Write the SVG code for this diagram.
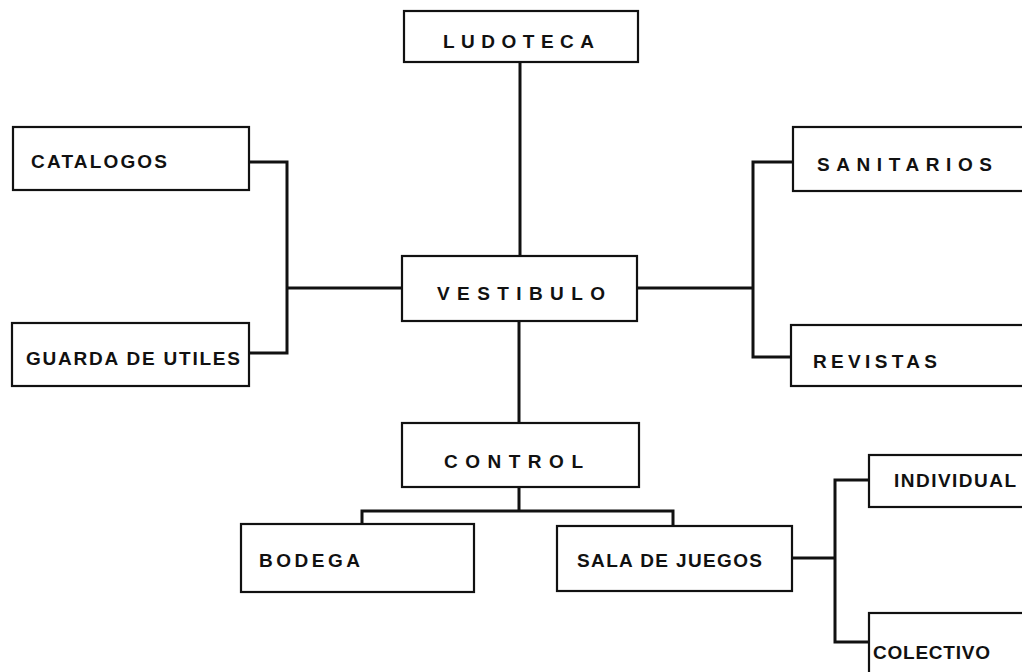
<svg xmlns="http://www.w3.org/2000/svg" width="1022" height="672" viewBox="0 0 1022 672">
<style>
.box{fill:#fff;stroke:#111;stroke-width:2.2}
.lbl{font-family:"Liberation Sans",Arial,sans-serif;font-weight:bold;font-size:19px;fill:#111}
.con{fill:none;stroke:#111;stroke-width:3;stroke-linejoin:miter}
</style>
<rect width="1022" height="672" fill="#fff"/>
<g id="connectors">
<path class="con" d="M520 62 V256"/>
<path class="con" d="M249 162 H287 V353 H249 M287 288 H402"/>
<path class="con" d="M637 288 H753 M793 162 H753 V357 H791"/>
<path class="con" d="M519 321 V423"/>
<path class="con" d="M519 487 V511 M362 524 V511 H673 V526"/>
<path class="con" d="M792 558 H835 M869 480 H835 V642 H869"/>
</g>
<g id="ludoteca"><rect class="box" x="404" y="11" width="234" height="51"/><text class="lbl" x="443" y="48" textLength="151" lengthAdjust="spacing">LUDOTECA</text></g>
<g id="catalogos"><rect class="box" x="13" y="127" width="236" height="63"/><text class="lbl" x="31" y="168" textLength="136" lengthAdjust="spacing">CATALOGOS</text></g>
<g id="guarda"><rect class="box" x="12" y="323" width="237" height="63"/><text class="lbl" x="26" y="365" textLength="214" lengthAdjust="spacing">GUARDA DE UTILES</text></g>
<g id="vestibulo"><rect class="box" x="402" y="256" width="235" height="65"/><text class="lbl" x="437" y="300" textLength="168" lengthAdjust="spacing">VESTIBULO</text></g>
<g id="sanitarios"><rect class="box" x="793" y="127" width="240" height="64"/><text class="lbl" x="817" y="171" textLength="175" lengthAdjust="spacing">SANITARIOS</text></g>
<g id="revistas"><rect class="box" x="791" y="325" width="242" height="61"/><text class="lbl" x="813" y="368" textLength="124" lengthAdjust="spacing">REVISTAS</text></g>
<g id="control"><rect class="box" x="402" y="423" width="237" height="64"/><text class="lbl" x="444" y="468" textLength="139" lengthAdjust="spacing">CONTROL</text></g>
<g id="bodega"><rect class="box" x="241" y="524" width="233" height="68"/><text class="lbl" x="259" y="567" textLength="101" lengthAdjust="spacing">BODEGA</text></g>
<g id="sala"><rect class="box" x="557" y="526" width="235" height="65"/><text class="lbl" x="577" y="567" textLength="185" lengthAdjust="spacing">SALA DE JUEGOS</text></g>
<g id="individual"><rect class="box" x="869" y="455" width="160" height="52"/><text class="lbl" x="894" y="487" textLength="122" lengthAdjust="spacing">INDIVIDUAL</text></g>
<g id="colectivo"><rect class="box" x="869" y="613" width="160" height="70"/><text class="lbl" x="873" y="659" textLength="117" lengthAdjust="spacing">COLECTIVO</text></g>
</svg>
